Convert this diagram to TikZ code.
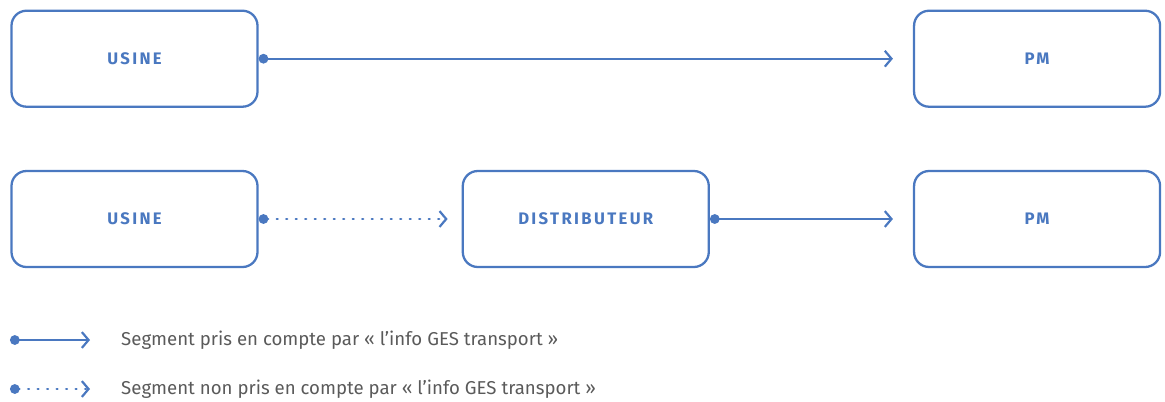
\documentclass[tikz,border=0pt]{standalone}
\usepackage{fontspec}
\setmainfont{Fira Sans}
\newfontfamily\boxfont[LetterSpace=14]{Fira Sans}
\usetikzlibrary{positioning,arrows.meta}
\definecolor{bleu}{HTML}{4A78C0}
\definecolor{gris}{HTML}{5A5A5A}

\begin{document}
\begin{tikzpicture}[%
			node distance=1.24cm and 4.06cm,
			site/.style={draw=bleu, line width=1.3pt, rounded corners=0.3cm,
				minimum width=4.92cm, minimum height=1.92cm,
				font=\boxfont\bfseries\fontsize{9.5}{11}\selectfont, text=bleu},
			flux/.style={bleu, line width=1.25pt,
				{Circle[length=5.5pt]}-{Straight Barb[length=3.8pt, width=9pt, line width=1.25pt]}},
			pointille/.style={flux, line cap=round, dash pattern=on 0.02cm off 0.17cm},
			legende/.style={anchor=west, text=gris, font=\fontsize{10.6}{12}\selectfont}
			]
			\useasboundingbox (0,0) rectangle (23.3,-8.02);
			% ligne 2
			\node[site] (usine2) at (2.69,-4.38) {USINE};
			\node[site, right=of usine2] (distrib) {DISTRIBUTEUR};
			\node[site, right=of distrib] (pm2) {PM};
			% ligne 1
			\node[site, above=of usine2] (usine1) {USINE};
			\node[site, above=of pm2] (pm1) {PM};
			% segments
			\draw[flux, shorten >=0.4cm] (usine1.east) -- (pm1.west);
			\draw[pointille, shorten >=0.28cm] (usine2.east) -- (distrib.west);
			\draw[flux, shorten >=0.4cm] (distrib.east) -- (pm2.west);
			% legende
			\coordinate (l1a) at (0.2,-6.8);
			\coordinate (l1b) at (1.8,-6.8);
			\coordinate (l2a) at (0.2,-7.78);
			\coordinate (l2b) at (1.8,-7.78);
			\draw[flux] (l1a) -- (l1b);
			\draw[pointille] (l2a) -- (l2b);
			\node[legende] (t1) at (2.3,-6.8) {Segment pris en compte par « l’info GES transport »};
			\node[legende] (t2) at (2.3,-7.78) {Segment non pris en compte par « l’info GES transport »};
		\end{tikzpicture}
\end{document}
